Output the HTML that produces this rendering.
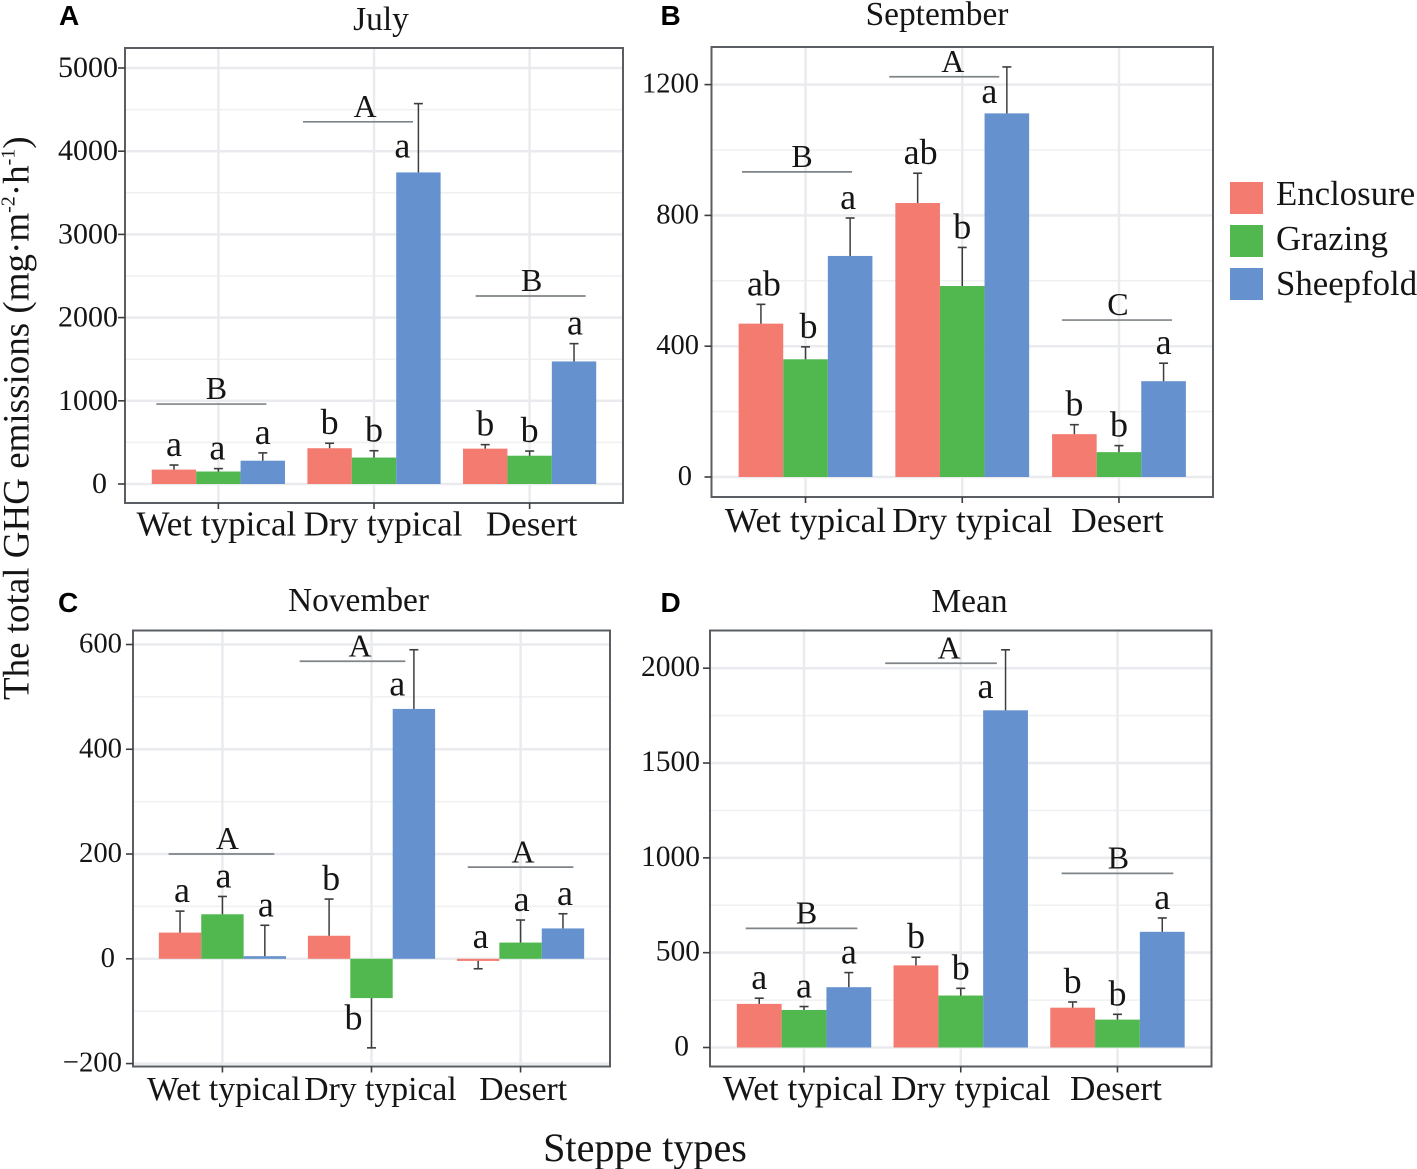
<!DOCTYPE html>
<html lang="en">
<head>
<meta charset="utf-8">
<title>The total GHG emissions by steppe type</title>
<style>
html,body{margin:0;padding:0;background:#fff;}
svg{display:block;}
text{font-family:"Liberation Serif",serif;fill:#151515;}
.tag{font-family:"Liberation Sans",sans-serif;font-weight:700;fill:#000;}
</style>
</head>
<body>
<svg id="chart" xmlns="http://www.w3.org/2000/svg" width="1417" height="1169" viewBox="0 0 1417 1169">
  <rect x="0" y="0" width="1417" height="1169" fill="#ffffff"/>
  <text transform="translate(28.5,700) rotate(-90)" font-size="37">The total GHG emissions (mg·m<tspan font-size="20" dy="-14">-2</tspan><tspan dy="14">·h</tspan><tspan font-size="20" dy="-14">-1</tspan><tspan dy="14">)</tspan></text>
  <text x="645" y="1161" font-size="40.1" text-anchor="middle">Steppe types</text>
  <text class="tag" x="59" y="25" font-size="28">A</text>
  <text class="tag" x="660.5" y="25" font-size="28">B</text>
  <text class="tag" x="58" y="612" font-size="28">C</text>
  <text class="tag" x="660.5" y="612" font-size="28">D</text>
  <g>
    <g>
      <rect x="1230" y="182" width="33" height="32" fill="#F47B70"/>
      <text x="1276" y="205" font-size="34.8">Enclosure</text>
    </g>
    <g>
      <rect x="1230" y="225" width="33" height="32" fill="#50B84F"/>
      <text x="1276" y="250" font-size="34.8">Grazing</text>
    </g>
    <g>
      <rect x="1230" y="268" width="33" height="32" fill="#6592CE"/>
      <text x="1276" y="295" font-size="34.8">Sheepfold</text>
    </g>
  </g>
</svg>
<script>
const categories = ['Wet typical', 'Dry typical', 'Desert'];
const seriesNames = ['enclosure', 'grazing', 'sheepfold'];
const seriesColors = ['#F47B70', '#50B84F', '#6592CE'];

const julyTicks = [0, 1000, 2000, 3000, 4000, 5000];
const julyEnclosure = [173, 430, 425];
const julyGrazing = [150, 318, 340];
const julySheepfold = [280, 3745, 1473];
const julyEnclosureError = [228, 490, 473];
const julyGrazingError = [185, 400, 396];
const julySheepfoldError = [374, 4572, 1687];
const julyEnclosureLetters = ['a', 'b', 'b'];
const julyGrazingLetters = ['a', 'b', 'b'];
const julySheepfoldLetters = ['a', 'a', 'a'];
const julyGroupLetters = ['B', 'A', 'B'];
const julyGroupLevels = [961, 4353, 2260];

const septemberTicks = [0, 400, 800, 1200];
const septemberEnclosure = [469, 838, 131];
const septemberGrazing = [360, 584, 76];
const septemberSheepfold = [676, 1112, 293];
const septemberEnclosureError = [528, 929, 160];
const septemberGrazingError = [398, 702, 96];
const septemberSheepfoldError = [792, 1254, 348];
const septemberEnclosureLetters = ['ab', 'ab', 'b'];
const septemberGrazingLetters = ['b', 'b', 'b'];
const septemberSheepfoldLetters = ['a', 'a', 'a'];
const septemberGroupLetters = ['B', 'A', 'C'];
const septemberGroupLevels = [933, 1224, 480];

const novemberTicks = [-200, 0, 200, 400, 600];
const novemberEnclosure = [50, 44, -4];
const novemberGrazing = [85, -75, 31];
const novemberSheepfold = [5, 477, 58];
const novemberEnclosureError = [91, 114, -19];
const novemberGrazingError = [119, -170, 74];
const novemberSheepfoldError = [64, 590, 86];
const novemberEnclosureLetters = ['a', 'b', 'a'];
const novemberGrazingLetters = ['a', 'b', 'a'];
const novemberSheepfoldLetters = ['a', 'a', 'a'];
const novemberGroupLetters = ['A', 'A', 'A'];
const novemberGroupLevels = [200, 568, 175];

const meanTicks = [0, 500, 1000, 1500, 2000];
const meanEnclosure = [230, 433, 210];
const meanGrazing = [198, 274, 147];
const meanSheepfold = [318, 1778, 610];
const meanEnclosureError = [260, 476, 240];
const meanGrazingError = [216, 312, 175];
const meanSheepfoldError = [395, 2097, 683];
const meanEnclosureLetters = ['a', 'b', 'b'];
const meanGrazingLetters = ['a', 'b', 'b'];
const meanSheepfoldLetters = ['a', 'a', 'a'];
const meanGroupLetters = ['B', 'A', 'B'];
const meanGroupLevels = [628, 2026, 918];

const panels = [
  {
    key: 'july', title: 'July', titleX: 381, titleY: 30,
    left: 125, right: 623, top: 48, bottom: 503, zeroY: 484, maxTickY: 68,
    ticks: julyTicks, tickFont: 30, tickRight: 118, tickDy: 9, zeroShift: -11, labelFont: 35.1, labelY: 535.5,
    labelDx: [-2, 9, 2], barW: 44.4, lineW: 110,
    lineDx: [-7, -16, 1], groupDx: [5, 7, 1],
    values: [julyEnclosure, julyGrazing, julySheepfold],
    errors: [julyEnclosureError, julyGrazingError, julySheepfoldError],
    letters: [julyEnclosureLetters, julyGrazingLetters, julySheepfoldLetters],
    groups: julyGroupLetters, levels: julyGroupLevels,
    nudges: [{s: 2, c: 1, dx: -16, dy: 63}, {s: 1, c: 0, dx: -1, dy: 0}, {s: 2, c: 2, dx: 1, dy: 0}]
  },
  {
    key: 'september', title: 'September', titleX: 937, titleY: 25,
    left: 711.5, right: 1213, top: 47, bottom: 497, zeroY: 477, maxTickY: 84.6,
    ticks: septemberTicks, tickFont: 28.5, tickRight: 699, tickDy: 8, zeroShift: -7, labelFont: 35.4, labelY: 532,
    labelDx: [0, 10, -1.5], barW: 44.6, lineW: 110,
    lineDx: [-8.5, -18, -2], groupDx: [5, 8.5, 1],
    values: [septemberEnclosure, septemberGrazing, septemberSheepfold],
    errors: [septemberEnclosureError, septemberGrazingError, septemberSheepfoldError],
    letters: [septemberEnclosureLetters, septemberGrazingLetters, septemberSheepfoldLetters],
    groups: septemberGroupLetters, levels: septemberGroupLevels,
    nudges: [{s: 2, c: 1, dx: -17.5, dy: 45}, {s: 0, c: 0, dx: 3, dy: 0}, {s: 1, c: 0, dx: 3, dy: 0}, {s: 2, c: 0, dx: -2, dy: 0}, {s: 0, c: 1, dx: 3, dy: 0}]
  },
  {
    key: 'november', title: 'November', titleX: 358.5, titleY: 611,
    left: 133, right: 610, top: 630.5, bottom: 1066.5, zeroY: 958.8, maxTickY: 644.5,
    ticks: novemberTicks, tickFont: 28.7, tickRight: 122, tickDy: 8, zeroShift: -7, labelFont: 33.7, labelY: 1100,
    labelDx: [1.4, 9, 2.6], barW: 42.4, lineW: 105.7,
    lineDx: [-1, -19, 0], groupDx: [6, 7.5, 2.5],
    values: [novemberEnclosure, novemberGrazing, novemberSheepfold],
    errors: [novemberEnclosureError, novemberGrazingError, novemberSheepfoldError],
    letters: [novemberEnclosureLetters, novemberGrazingLetters, novemberSheepfoldLetters],
    groups: novemberGroupLetters, levels: novemberGroupLevels,
    nudges: [{s: 2, c: 1, dx: -16.7, dy: 55}, {s: 1, c: 1, dx: -18, dy: -9.3}, {s: 0, c: 2, dx: 2.4, dy: -11.8}, {s: 0, c: 0, dx: 2, dy: 0}, {s: 1, c: 0, dx: 1, dy: 0}, {s: 2, c: 0, dx: 1, dy: 0}, {s: 0, c: 1, dx: 2, dy: 0}, {s: 1, c: 2, dx: 1, dy: 0}, {s: 2, c: 2, dx: 2, dy: 0}]
  },
  {
    key: 'mean', title: 'Mean', titleX: 969.5, titleY: 612,
    left: 710, right: 1211.5, top: 630.5, bottom: 1066.5, zeroY: 1047.5, maxTickY: 668.2,
    ticks: meanTicks, tickFont: 29.5, tickRight: 700, tickDy: 8, zeroShift: -11, labelFont: 35.2, labelY: 1100,
    labelDx: [-1, 10, -1.5], barW: 44.8, lineW: 111.7,
    lineDx: [-2.5, -19.7, 0], groupDx: [5, 8, 1],
    values: [meanEnclosure, meanGrazing, meanSheepfold],
    errors: [meanEnclosureError, meanGrazingError, meanSheepfoldError],
    letters: [meanEnclosureLetters, meanGrazingLetters, meanSheepfoldLetters],
    groups: meanGroupLetters, levels: meanGroupLevels,
    nudges: [{s: 2, c: 1, dx: -20, dy: 57}]
  }
];

const svgNS = 'http://www.w3.org/2000/svg';
const root = document.getElementById('chart');

function make(parent, tag, attrs, text) {
  const node = document.createElementNS(svgNS, tag);
  Object.keys(attrs).forEach(function (k) { node.setAttribute(k, attrs[k]); });
  if (text !== undefined) node.textContent = text;
  parent.appendChild(node);
  return node;
}

function drawPanel(p) {
  const maxTick = Math.max.apply(null, p.ticks);
  const y = function (v) { return p.zeroY - v / maxTick * (p.zeroY - p.maxTickY); };
  const step = (p.right - p.left) / 3.2;
  const x = function (i) { return p.left + step * (0.6 + i); };

  const group = make(root, 'g', {});
  
  

  const title = make(group, 'text', {x: p.titleX, y: p.titleY, 'font-size': 33.4, 'text-anchor': 'middle'}, p.title);
  
  

  for (let t = 0; t < p.ticks.length - 1; t++) {
    const minor = make(group, 'line', {x1: p.left, x2: p.right, y1: y((p.ticks[t] + p.ticks[t + 1]) / 2), y2: y((p.ticks[t] + p.ticks[t + 1]) / 2), stroke: '#eef0f2', 'stroke-width': 1.5});
    
    
  }
  p.ticks.forEach(function (t) {
    const major = make(group, 'line', {x1: p.left, x2: p.right, y1: y(t), y2: y(t), stroke: '#e9ebee', 'stroke-width': 2.5});
    
    
  });
  categories.forEach(function (c, i) {
    const vertical = make(group, 'line', {x1: x(i), x2: x(i), y1: p.top, y2: p.bottom, stroke: '#e9ebee', 'stroke-width': 2.5});
    
    
  });

  seriesNames.forEach(function (name, s) {
    categories.forEach(function (c, i) {
      const cx = x(i) + (s - 1) * p.barW;
      const value = p.values[s][i];
      const end = p.errors[s][i];

      const bar = make(group, 'rect', {x: cx - p.barW / 2, y: Math.min(y(0), y(value)), width: p.barW, height: Math.abs(y(value) - y(0)), fill: seriesColors[s]});
      
      

      const stem = make(group, 'line', {x1: cx, x2: cx, y1: y(value), y2: y(end), stroke: '#3d3d3d', 'stroke-width': 1.5});
      
      

      const cap = make(group, 'line', {x1: cx - 4.5, x2: cx + 4.5, y1: y(end), y2: y(end), stroke: '#3d3d3d', 'stroke-width': 1.6});
      
      

      const nudge = p.nudges.find(function (n) { return n.s === s && n.c === i; }) || {dx: 0, dy: 0};
      const letter = make(group, 'text', {x: cx + nudge.dx, y: y(end) - 9 + nudge.dy, 'font-size': 36, 'text-anchor': 'middle'}, p.letters[s][i]);
      
      
    });
  });

  p.groups.forEach(function (label, i) {
    const lineCenter = x(i) + p.lineDx[i];
    const rule = make(group, 'line', {x1: lineCenter - p.lineW / 2, x2: lineCenter + p.lineW / 2, y1: y(p.levels[i]), y2: y(p.levels[i]), stroke: '#7f8488', 'stroke-width': 1.7});
    
    

    const tag = make(group, 'text', {x: lineCenter + p.groupDx[i], y: y(p.levels[i]) - 4.8, 'font-size': 32, 'text-anchor': 'middle'}, label);
    
    
  });

  const frame = make(group, 'rect', {x: p.left, y: p.top, width: p.right - p.left, height: p.bottom - p.top, fill: 'none', stroke: '#5a5e62', 'stroke-width': 2});
  
  

  p.ticks.forEach(function (t) {
    const mark = make(group, 'line', {x1: p.left - 7, x2: p.left, y1: y(t), y2: y(t), stroke: '#3d3d3d', 'stroke-width': 1.6});
    
    

    const tickText = String(t).replace('-', '\u2212');
    const tickLabel = make(group, 'text', {x: p.tickRight + (t === 0 ? p.zeroShift : 0), y: y(t) + p.tickDy, 'font-size': p.tickFont, 'text-anchor': 'end'}, tickText);
    
    
  });

  categories.forEach(function (c, i) {
    const mark = make(group, 'line', {x1: x(i), x2: x(i), y1: p.bottom, y2: p.bottom + 6, stroke: '#3d3d3d', 'stroke-width': 1.6});
    
    

    const catLabel = make(group, 'text', {x: x(i) + p.labelDx[i], y: p.labelY, 'font-size': p.labelFont, 'text-anchor': 'middle'}, c);
    
    
  });
}

panels.forEach(drawPanel);
</script>
</body>
</html>
